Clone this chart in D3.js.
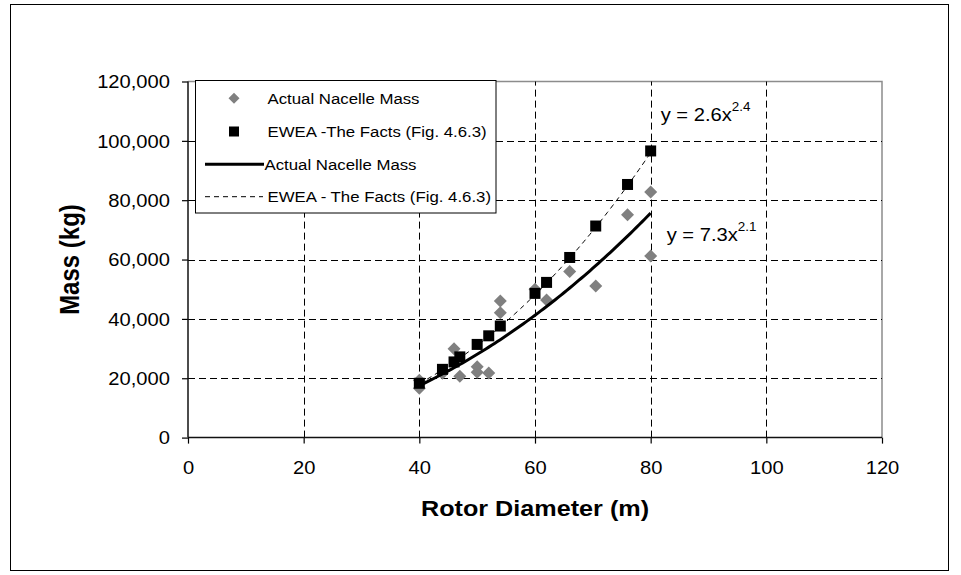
<!DOCTYPE html>
<html>
<head>
<meta charset="utf-8">
<script src="https://cdn.jsdelivr.net/npm/d3@7/dist/d3.min.js"></script>
<style>
  body { margin: 0; background: #fff; }
  text { font-family: "Liberation Sans", Arial, sans-serif; fill: #000; }
</style>
</head>
<body>
<svg id="chart" width="961" height="575"></svg>
<script>
// Measured nacelle masses by rotor diameter
const actualDiameter = [40, 40, 44, 46, 47, 50, 50, 52, 54, 54, 60, 62, 66, 70.5, 76, 80, 80];
const actualMass     = [19300, 16600, 21700, 29900, 20700, 23900, 22000, 21800, 46000, 42100, 50000, 46400, 56000, 51100, 75100, 82800, 61200];

// EWEA "The Facts" reference masses (Fig. 4.6.3)
const eweaDiameter = [40, 44, 46, 47, 50, 52, 54, 60, 62, 66, 70.5, 76, 80];
const eweaMass     = [18300, 23000, 25500, 27200, 31400, 34300, 37600, 48600, 52300, 60700, 71300, 85300, 96600];

// Power-law trendlines y = a * x^b  (index 0: actual, 1: EWEA)
const trendCoef = [7.3, 2.6];
const trendExp  = [2.11, 2.4];
const trendFrom = [40, 40];
const trendTo   = [80, 80];

const xTicks = [0, 20, 40, 60, 80, 100, 120];
const yTicks = [0, 20000, 40000, 60000, 80000, 100000, 120000];

const legendLabels = [
  "Actual Nacelle Mass",
  "EWEA -The Facts (Fig. 4.6.3)",
  "Actual Nacelle Mass",
  "EWEA - The Facts (Fig. 4.6.3)"
];

const SX = 1.12; // horizontal text stretch
const svg = d3.select("#chart");

// outer frame
svg.append("rect")
  .attr("x", 10.5).attr("y", 4.5).attr("width", 938).attr("height", 566)
  .attr("fill", "#fff").attr("stroke", "#000").attr("stroke-width", 1);

const x = d3.scaleLinear().domain([0, 120]).range([188, 882]);
const y = d3.scaleLinear().domain([0, 120000]).range([437.6, 81.5]);

// plot frame (top and right)
svg.append("path")
  .attr("d", `M${x(0)},${y(120000)}H${x(120)}V${y(0)}`)
  .attr("fill", "none").attr("stroke", "#8c8c8c").attr("stroke-width", 1.5);

// gridlines
const grid = svg.append("g").attr("stroke", "#000").attr("stroke-width", 1)
  .attr("stroke-dasharray", "7,4").attr("fill", "none");
grid.selectAll("line.h").data(yTicks.filter(d => d > 0 && d < 120000)).join("line")
  .attr("class", "h")
  .attr("x1", x(0)).attr("x2", x(120))
  .attr("y1", d => Math.round(y(d)) + 0.5).attr("y2", d => Math.round(y(d)) + 0.5);
grid.selectAll("line.v").data(xTicks.filter(d => d > 0 && d < 120)).join("line")
  .attr("class", "v")
  .attr("y1", y(0)).attr("y2", y(120000))
  .attr("x1", d => Math.round(x(d)) + 0.5).attr("x2", d => Math.round(x(d)) + 0.5);

// axes
const yAxis = svg.append("g").attr("transform", `translate(${x(0)},0)`)
  .call(d3.axisLeft(y).tickValues(yTicks).tickSize(6).tickFormat(d3.format(",")));
const xAxis = svg.append("g").attr("transform", `translate(0,${y(0)})`)
  .call(d3.axisBottom(x).tickValues(xTicks).tickSize(6).tickFormat(d3.format("d")));

[yAxis, xAxis].forEach(g => {
  g.select(".domain").remove();
  g.selectAll(".tick line").attr("stroke", "#000").attr("stroke-width", 1.2);
  g.selectAll(".tick text").attr("font-size", 18).attr("font-family", null);
});
yAxis.selectAll(".tick text")
  .attr("x", 0).attr("dy", "0.35em").attr("text-anchor", "end")
  .attr("transform", `translate(-18,0) scale(${SX},1)`);
xAxis.selectAll(".tick text")
  .attr("y", 0).attr("dy", 0).attr("text-anchor", "middle")
  .attr("transform", `translate(0,36.5) scale(${SX},1)`);

svg.append("line").attr("x1", x(0)).attr("x2", x(0)).attr("y1", y(120000)).attr("y2", y(0))
  .attr("stroke", "#111").attr("stroke-width", 1.5);
svg.append("line").attr("x1", x(0)).attr("x2", x(120)).attr("y1", y(0)).attr("y2", y(0))
  .attr("stroke", "#111").attr("stroke-width", 1.5);

// axis titles
svg.append("text")
  .attr("transform", `translate(${(x(0) + x(120)) / 2},516) scale(${SX},1)`)
  .attr("text-anchor", "middle").attr("font-size", 22.5).attr("font-weight", "bold")
  .text("Rotor Diameter (m)");
svg.append("text")
  .attr("transform", `translate(79,${(y(0) + y(120000)) / 2}) scale(${SX},1) rotate(-90)`)
  .attr("text-anchor", "middle").attr("font-size", 24).attr("font-weight", "bold")
  .text("Mass (kg)");

// markers
const diamond = s => `M0,${-s}L${s},0L0,${s}L${-s},0Z`;
const actualPts = actualDiameter.map((d, i) => [d, actualMass[i]]);
const eweaPts = eweaDiameter.map((d, i) => [d, eweaMass[i]]);

svg.append("g").selectAll("path").data(actualPts).join("path")
  .attr("transform", d => `translate(${x(d[0])},${y(d[1])})`)
  .attr("d", diamond(6.5)).attr("fill", "#808080");

svg.append("g").selectAll("rect").data(eweaPts).join("rect")
  .attr("x", d => x(d[0]) - 5.5).attr("y", d => y(d[1]) - 5.5)
  .attr("width", 11).attr("height", 11).attr("fill", "#000");

// trendlines
const line = d3.line().x(d => x(d[0])).y(d => y(d[1]));
const trendPts = k => d3.range(trendFrom[k], trendTo[k] + 0.001, 0.5)
  .map(v => [v, trendCoef[k] * Math.pow(v, trendExp[k])]);

svg.append("path").datum(trendPts(1)).attr("d", line)
  .attr("fill", "none").attr("stroke", "#000").attr("stroke-width", 1)
  .attr("stroke-dasharray", "5,4");
svg.append("path").datum(trendPts(0)).attr("d", line)
  .attr("fill", "none").attr("stroke", "#000").attr("stroke-width", 3);

// equation labels
const fmt1 = d3.format(".1f");
function equation(k, px, py) {
  const t = svg.append("text")
    .attr("transform", `translate(${px},${py}) scale(${SX},1)`)
    .attr("font-size", 18);
  t.append("tspan").text(`y = ${fmt1(trendCoef[k])}x`);
  t.append("tspan").attr("font-size", 12).attr("dy", -10).text(fmt1(trendExp[k]));
}
const endE = trendCoef[1] * Math.pow(trendTo[1], trendExp[1]);
const endA = trendCoef[0] * Math.pow(trendTo[0], trendExp[0]);
equation(1, x(trendTo[1]) + 10, y(endE) - 32);
equation(0, x(trendTo[0]) + 16, y(endA) + 28);

// legend
const lg = svg.append("g");
lg.append("rect").attr("x", 195.5).attr("y", 80.5).attr("width", 300.5).attr("height", 132.5)
  .attr("fill", "#fff").attr("stroke", "#000").attr("stroke-width", 1);
const rowY = [98.3, 131.5, 164.3, 196.7];
lg.append("path").attr("transform", `translate(234,${rowY[0]})`).attr("d", diamond(5.5)).attr("fill", "#808080");
lg.append("rect").attr("x", 229).attr("y", rowY[1] - 5).attr("width", 10).attr("height", 10).attr("fill", "#000");
lg.append("line").attr("x1", 205).attr("x2", 264).attr("y1", rowY[2]).attr("y2", rowY[2])
  .attr("stroke", "#000").attr("stroke-width", 3);
lg.append("line").attr("x1", 205).attr("x2", 263).attr("y1", rowY[3]).attr("y2", rowY[3])
  .attr("stroke", "#000").attr("stroke-width", 1).attr("stroke-dasharray", "5,4");
const textX = [267.5, 267.5, 264.5, 267.5];
legendLabels.forEach((s, i) => {
  lg.append("text")
    .attr("transform", `translate(${textX[i]},${rowY[i] + 5.5}) scale(${SX},1)`)
    .attr("font-size", 15).text(s);
});
</script>
</body>
</html>
